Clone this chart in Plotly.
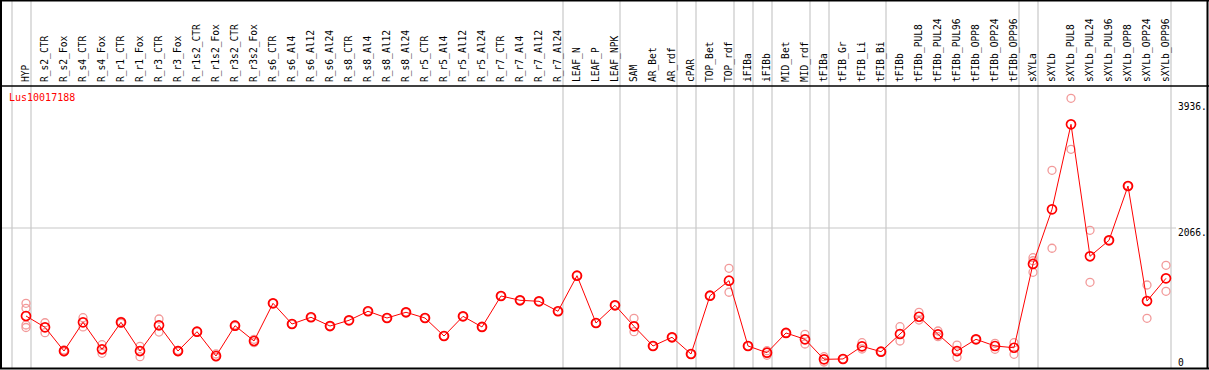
import plotly.graph_objects as go

samples = ["HYP", "R_s2_CTR", "R_s2_Fox", "R_s4_CTR", "R_s4_Fox", "R_r1_CTR", "R_r1_Fox",
           "R_r3_CTR", "R_r3_Fox", "R_r1s2_CTR", "R_r1s2_Fox", "R_r3s2_CTR", "R_r3s2_Fox",
           "R_s6_CTR", "R_s6_Al4", "R_s6_Al12", "R_s6_Al24", "R_s8_CTR", "R_s8_Al4", "R_s8_Al12",
           "R_s8_Al24", "R_r5_CTR", "R_r5_Al4", "R_r5_Al12", "R_r5_Al24", "R_r7_CTR", "R_r7_Al4",
           "R_r7_Al12", "R_r7_Al24", "LEAF_N", "LEAF_P", "LEAF_NPK", "SAM", "AR_Bet", "AR_rdf",
           "cPAR", "TOP_Bet", "TOP_rdf", "iFIBa", "iFIBb", "MID_Bet", "MID_rdf", "tFIBa",
           "tFIB_Gr", "tFIB_Li", "tFIB_Bi", "tFIBb", "tFIBb_PUL8", "tFIBb_PUL24", "tFIBb_PUL96",
           "tFIBb_OPP8", "tFIBb_OPP24", "tFIBb_OPP96", "sXYLa", "sXYLb", "sXYLb_PUL8",
           "sXYLb_PUL24", "sXYLb_PUL96", "sXYLb_OPP8", "sXYLb_OPP24", "sXYLb_OPP96"]

mean_values = [760, 592, 240, 666, 266, 666, 240, 622, 240, 527, 166, 616, 389,
               948, 641, 741, 611, 696, 830, 730, 815, 730, 463, 755, 597, 1057, 993,
               978, 830, 1358, 656, 919, 607, 315, 444, 196, 1061, 1284, 315, 215, 508,
               414, 117, 122, 310, 230, 493, 749, 488, 240, 414, 315, 289, 1532, 2343,
               3605, 1646, 1883, 2689, 982, 1319]

rep_a = [948, 660, 255, 735, 334, 680, 310, 715, 250, 530, 196, 626, 414,
         950, 645, 745, 615, 700, 834, 734, 819, 734, 467, 759, 601, 1061, 997,
         982, 834, 1362, 660, 923, 726, 319, 448, 200, 1065, 1468, 319, 245, 512,
         488, 156, 126, 364, 234, 601, 815, 537, 329, 418, 355, 364, 1625, 2922,
         3991, 2032, 1887, 2693, 1220, 1512]

rep_b = [874, 512, 226, 597, 206, 650, 156, 522, 230, 524, 147, 606, 364,
         946, 637, 737, 607, 692, 826, 726, 811, 726, 459, 751, 593, 1053, 989,
         974, 826, 1354, 652, 915, 527, 311, 440, 192, 1057, 1112, 311, 177, 504,
         344, 77, 118, 270, 226, 389, 700, 453, 147, 410, 266, 191, 1580, 1765,
         3234, 1260, 1879, 2685, 726, 1126]

rep_c = [626] + [None] * 52 + [1408] + [None] * 7
rep_d = [589] + [None] * 60

gene_name = "Lus10017188"
axis_tick_values = [0, 2066, 3936]
axis_tick_text = ["0", "2066.", "3936."]
# sample positions after which a grey separator is drawn (0 = before first)
separator_after = [0, 1, 29, 32, 35, 36, 38, 39, 40, 42, 43, 46, 53, 54, 61]

W, H = 1209, 370
L, R, T, B = 2, 33, 86, 2
pw, ph = W - L - R, H - T - B
FONT = "DejaVu Sans Mono"

def px_x(p):
    return (p - L) / pw

def px_y(p):
    return (H - B - p) / ph

xs = list(range(1, len(samples) + 1))

rx, ry = [], []
for arr in (rep_a, rep_b, rep_c, rep_d):
    for x, v in zip(xs, arr):
        if v is not None:
            rx.append(x)
            ry.append(v)

fig = go.Figure()
fig.add_trace(go.Scatter(
    x=rx, y=ry, mode="markers",
    marker=dict(symbol="circle-open", size=8, color="#f29a9a", line=dict(width=1.3, color="#f29a9a")),
    hoverinfo="skip", showlegend=False, cliponaxis=False))
fig.add_trace(go.Scatter(
    x=xs, y=mean_values, mode="lines+markers",
    line=dict(color="#ff0000", width=1),
    marker=dict(symbol="circle-open", size=9, color="#ff0000", line=dict(width=1.7, color="#ff0000")),
    showlegend=False, cliponaxis=False))

shapes = []
top_paper = px_y(0)
for k in separator_after:
    shapes.append(dict(type="line", xref="x", yref="paper", x0=k + 5 / 19, x1=k + 5 / 19,
                       y0=0, y1=top_paper, line=dict(color="#c8c8c8", width=1.2), layer="below"))
shapes.append(dict(type="line", xref="paper", yref="y", x0=0, x1=1, y0=axis_tick_values[1],
                   y1=axis_tick_values[1], line=dict(color="#c8c8c8", width=1.2), layer="below"))
# frame
blk = dict(color="black", width=2)
shapes += [
    dict(type="line", xref="paper", yref="paper", x0=px_x(1), x1=px_x(1), y0=px_y(0), y1=px_y(369), line=blk),
    dict(type="line", xref="paper", yref="paper", x0=px_x(1207.5), x1=px_x(1207.5), y0=px_y(0), y1=px_y(369), line=blk),
    dict(type="line", xref="paper", yref="paper", x0=px_x(0), x1=px_x(1209), y0=px_y(0.5), y1=px_y(0.5), line=blk),
    dict(type="line", xref="paper", yref="paper", x0=px_x(0), x1=px_x(1209), y0=px_y(368.5), y1=px_y(368.5), line=blk),
    dict(type="line", xref="paper", yref="paper", x0=px_x(0), x1=px_x(1209), y0=1, y1=1, line=dict(color="black", width=1.5)),
]

annotations = [dict(text=gene_name, xref="paper", yref="paper", x=px_x(7), y=px_y(98),
                    xanchor="left", yanchor="middle", showarrow=False,
                    font=dict(family=FONT, size=10, color="#ff0000"))]
for v, t in zip(axis_tick_values, axis_tick_text):
    annotations.append(dict(text=t, xref="paper", yref="y", x=px_x(1176), y=v,
                            xanchor="left", yanchor="bottom" if v == 0 else "top",
                            yshift=-3 if v == 0 else 3,
                            showarrow=False, font=dict(family=FONT, size=9.6, color="black")))

x_lo = 1 - (26 - L) / 19
x_hi = x_lo + pw / 19
y_per_px = 1 / 0.06738
y_lo = -(368 - 367.2) * y_per_px
y_hi = (367.2 - 86) * y_per_px

fig.update_layout(
    width=W, height=H, margin=dict(l=L, r=R, t=T, b=B, pad=0),
    paper_bgcolor="white", plot_bgcolor="white",
    xaxis=dict(range=[x_lo, x_hi], side="top", tickmode="array", tickvals=xs, ticktext=samples,
               tickangle=-90, ticks="", ticklabelstandoff=3, showgrid=False, zeroline=False,
               showline=False, tickfont=dict(family=FONT, size=9.6, color="black")),
    yaxis=dict(range=[y_lo, y_hi], showticklabels=False, showgrid=False, zeroline=False,
               showline=False, ticks=""),
    shapes=shapes, annotations=annotations,
)

fig.write_html("out.html", config={"displayModeBar": False},
               post_script="document.body.style.margin='0';document.body.style.padding='0';"
                           "document.documentElement.style.overflow='hidden';")
